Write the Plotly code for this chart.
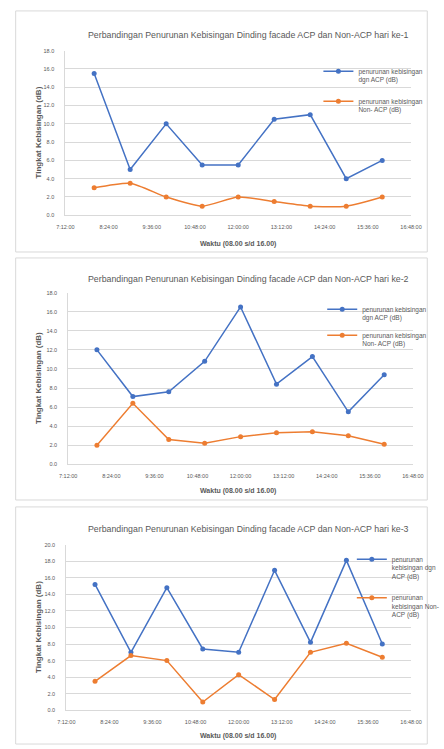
import plotly.graph_objects as go

# Measurement times (one reading per hour, 08:00 - 16:00)
times = ["08:00", "09:00", "10:00", "11:00", "12:00", "13:00", "14:00", "15:00", "16:00"]

# Noise reduction (dB) per day: facade with ACP vs. without ACP
day1_acp = [15.5, 5.0, 10.0, 5.5, 5.5, 10.5, 11.0, 4.0, 6.0]
day1_non = [3.0, 3.5, 2.0, 1.0, 2.0, 1.5, 1.0, 1.0, 2.0]
day2_acp = [12.0, 7.1, 7.6, 10.8, 16.5, 8.4, 11.3, 5.5, 9.4]
day2_non = [2.0, 6.4, 2.6, 2.2, 2.9, 3.3, 3.4, 3.0, 2.1]
day3_acp = [15.2, 7.0, 14.8, 7.4, 7.0, 16.9, 8.2, 18.1, 8.0]
day3_non = [3.5, 6.6, 6.0, 1.0, 4.3, 1.3, 7.0, 8.1, 6.4]

titles = [
    "Perbandingan Penurunan Kebisingan Dinding facade ACP dan Non-ACP hari ke-1",
    "Perbandingan Penurunan Kebisingan Dinding facade ACP dan Non-ACP hari ke-2",
    "Perbandingan Penurunan Kebisingan Dinding facade ACP dan Non-ACP hari ke-3",
]
y_max = [18, 18, 20]
x_title = "Waktu (08.00 s/d 16.00)"
y_title = "Tingkat Kebisingan (dB)"
legend_names = [
    ["penurunan kebisingan<br>dgn ACP (dB)", "penurunan kebisingan<br>Non- ACP (dB)"],
    ["penurunan kebisingan<br>dgn ACP (dB)", "penurunan kebisingan<br>Non- ACP (dB)"],
    ["penurunan<br>kebisingan dgn<br>ACP (dB)", "penurunan<br>kebisingan Non-<br>ACP (dB)"],
]

W, H = 444, 749
BLUE = "#4472C4"
ORANGE = "#ED7D31"
GREY = "#595959"
GRID = "#D9D9D9"
FONT = "Liberation Sans"

DAY = "2024-01-01 "


def px(x):
    return x / W


def py(y):
    return 1 - y / H


# pixel layout of each panel: box, plot area, title, legend
panels = [
    dict(box=(7, 8, 438, 251), plot=(59, 48, 421, 214), title_y=32, xtitle_y=243,
         leg=(324, 58), gap=10),
    dict(box=(7, 257, 438, 501), plot=(62, 292, 423, 465), title_y=278, xtitle_y=492,
         leg=(328, 298), gap=6),
    dict(box=(7, 508, 438, 747), plot=(60, 546, 421, 713), title_y=530, xtitle_y=739,
         leg=(359, 550), gap=10),
]

series = [(day1_acp, day1_non), (day2_acp, day2_non), (day3_acp, day3_non)]

fig = go.Figure()
shapes = []
annotations = []
x_vals = [DAY + t for t in times]

for i, (p, (acp, non)) in enumerate(zip(panels, series)):
    n = "" if i == 0 else str(i + 1)
    xa, ya, lg = "x" + n, "y" + n, "legend" + n
    fig.add_trace(go.Scatter(
        x=x_vals, y=acp, mode="lines+markers", name=legend_names[i][0],
        line=dict(color=BLUE, width=1.5), marker=dict(color=BLUE, size=5),
        xaxis=xa, yaxis=ya, legend=lg, legendgroup=f"a{i}"))
    fig.add_trace(go.Scatter(
        x=x_vals, y=non, mode="lines+markers", name=legend_names[i][1],
        line=dict(color=ORANGE, width=1.5, shape="spline" if i == 0 else "linear",
                  smoothing=0.6),
        marker=dict(color=ORANGE, size=5),
        xaxis=xa, yaxis=ya, legend=lg, legendgroup=f"b{i}"))

    x0, y0, x1, y1 = p["plot"]
    fig.layout["xaxis" + n] = dict(
        domain=[px(x0), px(x1)], anchor=ya, type="date",
        range=[DAY + "07:12", DAY + "16:48"], tick0=DAY + "07:12", dtick=72 * 60 * 1000,
        tickformat="%-H:%M:%S", showgrid=False, showline=True, linecolor=GRID,
        ticks="outside", ticklen=6, tickcolor="rgba(0,0,0,0)",
        tickfont=dict(size=5.5, color=GREY, family=FONT), zeroline=False,
        fixedrange=True)
    fig.layout["yaxis" + n] = dict(
        domain=[py(y1), py(y0)], anchor=xa, range=[0, y_max[i]], dtick=2,
        tickformat=".1f", showgrid=True, gridcolor=GRID, gridwidth=1,
        showline=True, linecolor=GRID, zeroline=False,
        ticks="outside", ticklen=9, tickcolor="rgba(0,0,0,0)",
        tickfont=dict(size=5.5, color=GREY, family=FONT), fixedrange=True)

    lx, ly = p["leg"]
    fig.layout[lg] = dict(
        x=px(lx), y=py(ly), xanchor="left", yanchor="top", valign="top",
        bgcolor="rgba(0,0,0,0)", font=dict(size=6.5, color=GREY, family=FONT),
        tracegroupgap=p["gap"], itemwidth=30)

    bx0, by0, bx1, by1 = p["box"]
    shapes.append(dict(type="rect", xref="paper", yref="paper",
                       x0=px(bx0), x1=px(bx1), y0=py(by1), y1=py(by0),
                       line=dict(color=GRID, width=1), layer="below"))

    annotations.append(dict(
        text=titles[i], x=px(251), y=py(p["title_y"]), xref="paper", yref="paper",
        showarrow=False, xanchor="center", yanchor="middle",
        font=dict(size=8.8, color=GREY, family=FONT)))
    annotations.append(dict(
        text="<b>" + x_title + "</b>", x=px(240), y=py(p["xtitle_y"]),
        xref="paper", yref="paper", showarrow=False, xanchor="center", yanchor="middle",
        font=dict(size=7, color=GREY, family=FONT)))
    annotations.append(dict(
        text="<b>" + y_title + "</b>", x=px(31), y=py((y0 + y1) / 2),
        xref="paper", yref="paper", showarrow=False, textangle=-90,
        xanchor="center", yanchor="middle",
        font=dict(size=8, color=GREY, family=FONT)))

fig.update_layout(
    width=W, height=H, margin=dict(l=0, r=0, t=0, b=0),
    paper_bgcolor="white", plot_bgcolor="white",
    shapes=shapes, annotations=annotations, showlegend=True,
)

fig.write_html("out.html", config={"displayModeBar": False})
